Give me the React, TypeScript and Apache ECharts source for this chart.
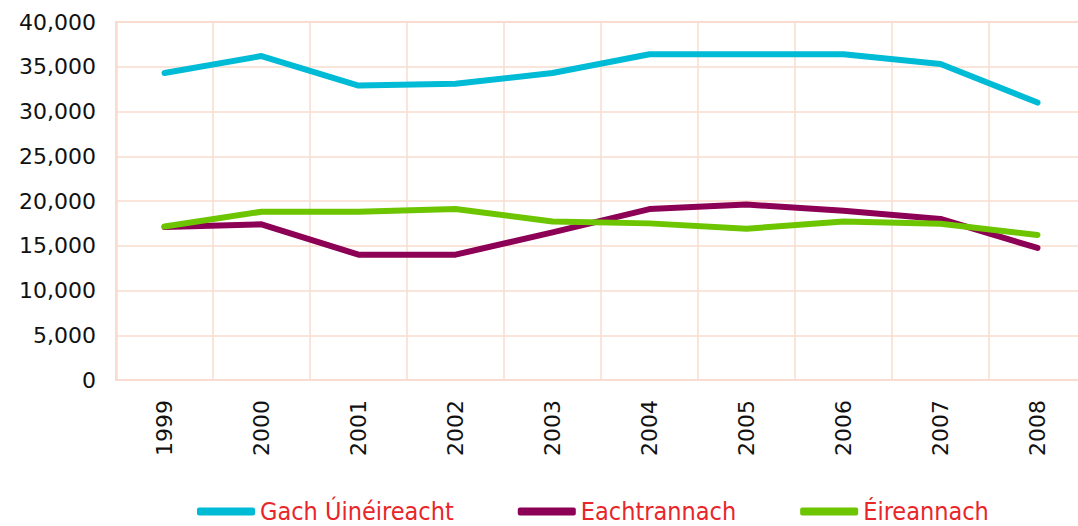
import React, { useEffect, useRef } from "react";
import * as echarts from "echarts";

const years = ["1999", "2000", "2001", "2002", "2003", "2004", "2005", "2006", "2007", "2008"];
const seriesNames = ["Gach Úinéireacht", "Eachtrannach", "Éireannach"];
const allOwners = [34300, 36200, 32900, 33100, 34300, 36400, 36400, 36400, 35300, 31000];
const foreign = [17100, 17400, 14000, 14000, 16500, 19100, 19600, 18900, 18000, 14750];
const irish = [17150, 18800, 18800, 19100, 17700, 17500, 16900, 17700, 17450, 16200];
const colors = ["#00bbd6", "#8c0055", "#6dc500"];

export default function App() {
  const ref = useRef<HTMLDivElement>(null);
  useEffect(() => {
    if (!ref.current) return;
    const chart = echarts.init(ref.current, undefined, { renderer: "svg" });
    const gridColor = "#f9dccf";
    const data = [allOwners, foreign, irish];
    chart.setOption({
      animation: false,
      backgroundColor: "#ffffff",
      grid: {
        left: 116,
        top: 22,
        width: 970,
        height: 358,
        show: true,
        borderColor: gridColor,
        borderWidth: 2,
        containLabel: false,
        outerBoundsMode: "none",
      },
      legend: {
        left: 192,
        top: 494,
        itemWidth: 58,
        itemHeight: 8,
        itemGap: 64,
        icon: "roundRect",
        data: seriesNames,
        textStyle: {
          color: "#e8262a",
          fontFamily: "'DejaVu Sans Condensed', 'DejaVu Sans', sans-serif",
          fontSize: 25,
        },
      },
      xAxis: {
        type: "category",
        data: years,
        boundaryGap: true,
        axisLine: { show: true, lineStyle: { color: gridColor, width: 2 } },
        axisTick: { show: false },
        splitLine: { show: true, lineStyle: { color: gridColor, width: 1.5 } },
        axisLabel: {
          rotate: 90,
          margin: 20,
          color: "#111111",
          fontFamily: "'DejaVu Sans', sans-serif",
          fontSize: 22,
        },
      },
      yAxis: {
        type: "value",
        min: 0,
        max: 40000,
        interval: 5000,
        axisLine: { show: true, lineStyle: { color: gridColor, width: 2.5 } },
        axisTick: { show: false },
        splitLine: { show: true, lineStyle: { color: gridColor, width: 1.5 } },
        axisLabel: {
          margin: 20,
          color: "#111111",
          fontFamily: "'DejaVu Sans', sans-serif",
          fontSize: 22,
          formatter: (v: number) => v.toLocaleString("en-US"),
        },
      },
      series: seriesNames.map((name, i) => ({
        name,
        type: "line",
        data: data[i],
        symbol: "none",
        color: colors[i],
        lineStyle: { width: 6, color: colors[i], cap: "round", join: "round" },
      })),
    });
    return () => chart.dispose();
  }, []);
  return (
    <div
      ref={ref}
      style={{ position: "fixed", left: 0, top: 0, width: 1078, height: 526 }}
    />
  );
}
